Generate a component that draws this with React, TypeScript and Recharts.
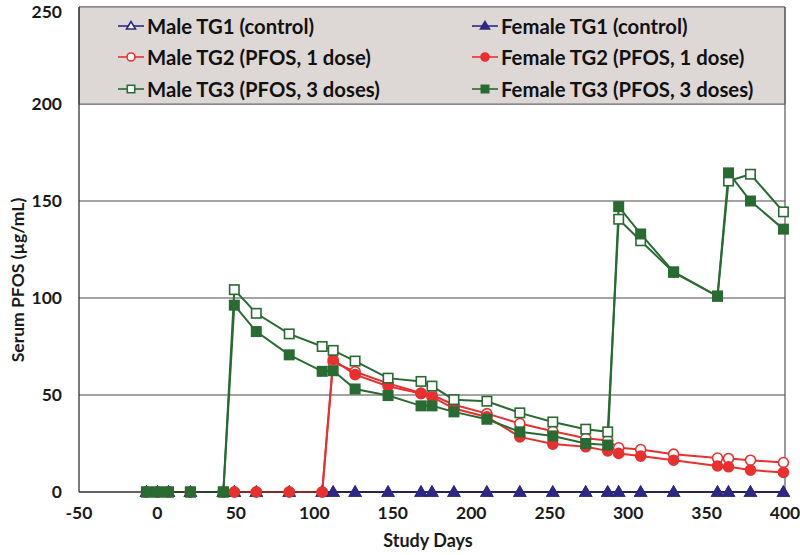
import React from 'react';
import {
  LineChart,
  Line,
  XAxis,
  YAxis,
  CartesianGrid,
  ReferenceArea,
  ReferenceLine,
} from 'recharts';

// sampling days (study days)
const days = [-7, 0, 7, 21, 42, 49, 63, 84, 105, 112, 126, 147, 168, 175, 189, 210, 231, 252, 273, 287, 294, 308, 329, 357, 364, 378, 399];

// serum PFOS (ug/mL) per group
const maleTG1 = [0, 0, 0, 0, 0, 0, 0, 0, 0, 0, 0, 0, 0, 0, 0, 0, 0, 0, 0, 0, 0, 0, 0, 0, 0, 0, 0];
const femaleTG1 = [0, 0, 0, 0, 0, 0, 0, 0, 0, 0, 0, 0, 0, 0, 0, 0, 0, 0, 0, 0, 0, 0, 0, 0, 0, 0, 0];
const maleTG2 = [0, 0, 0, 0, 0, 0, 0, 0, 0, 67, 62, 56, 51, 50, 45, 40.4, 35.3, 31.3, 27.7, 26.5, 22.8, 21.9, 19.5, 17.5, 17.3, 16.4, 15.2];
const femaleTG2 = [0, 0, 0, 0, 0, 0, 0, 0, 0, 68.2, 60.5, 54.5, 50.7, 49, 43, 38.7, 28.4, 24.7, 23.3, 21.2, 19.9, 18.5, 16.4, 13.4, 13, 11.3, 10.1];
const maleTG3 = [0, 0, 0, 0, 0, 104.3, 92.1, 81.5, 75, 73, 67.5, 58.7, 57, 54.6, 47.6, 46.8, 40.8, 36.1, 32.4, 31, 140.6, 129.5, 113.2, 100.9, 160.3, 163.8, 144.4];
const femaleTG3 = [0, 0, 0, 0, 0, 96.3, 82.7, 70.7, 62.2, 62.5, 53.1, 49.7, 44.4, 44.4, 41.3, 37.5, 31, 28.9, 25, 24.2, 147.1, 133, 113.5, 101, 164.5, 150, 135.5];

const xTicks = [-50, 0, 50, 100, 150, 200, 250, 300, 350, 400];
const yTicks = [0, 50, 100, 150, 200, 250];

const BLUE = '#2e2783';
const RED = '#e8302f';
const GREEN = '#2a6a33';
const FONT = 'Lato, "Open Sans", sans-serif';

const data = days.map((day, i) => ({
  day,
  m1: maleTG1[i],
  f1: femaleTG1[i],
  m2: maleTG2[i],
  f2: femaleTG2[i],
  m3: maleTG3[i],
  f3: femaleTG3[i],
}));

type Shape = 'triangle' | 'circle' | 'square';

const series: { key: string; label: string; shape: Shape; color: string; filled: boolean }[] = [
  { key: 'm1', label: 'Male TG1 (control)', shape: 'triangle', color: BLUE, filled: false },
  { key: 'f1', label: 'Female TG1 (control)', shape: 'triangle', color: BLUE, filled: true },
  { key: 'm2', label: 'Male TG2 (PFOS, 1 dose)', shape: 'circle', color: RED, filled: false },
  { key: 'f2', label: 'Female TG2 (PFOS, 1 dose)', shape: 'circle', color: RED, filled: true },
  { key: 'm3', label: 'Male TG3 (PFOS, 3 doses)', shape: 'square', color: GREEN, filled: false },
  { key: 'f3', label: 'Female TG3 (PFOS, 3 doses)', shape: 'square', color: GREEN, filled: true },
];

function Marker({ cx, cy, shape, color, filled, s = 5 }: any) {
  if (cx == null || cy == null) return null;
  const fill = filled ? color : '#fff';
  const sw = 1.6;
  if (shape === 'triangle') {
    const pts = `${cx},${cy - s - 0.5} ${cx - s - 0.5},${cy + s - 1} ${cx + s + 0.5},${cy + s - 1}`;
    return <polygon points={pts} fill={fill} stroke={color} strokeWidth={sw} />;
  }
  if (shape === 'circle') {
    return <circle cx={cx} cy={cy} r={s} fill={fill} stroke={color} strokeWidth={sw} />;
  }
  return <rect x={cx - s + 0.3} y={cy - s + 0.3} width={s * 2 - 0.6} height={s * 2 - 0.6} fill={fill} stroke={color} strokeWidth={sw} />;
}

function LegendBox() {
  // male column left, female column right
  const rows = [
    [series[0], series[1]],
    [series[2], series[3]],
    [series[4], series[5]],
  ];
  return (
    <div
      style={{
        position: 'absolute',
        left: 118,
        top: 10,
        fontFamily: FONT,
        fontWeight: 700,
        fontSize: 20.3,
        color: '#111',
        pointerEvents: 'none',
      }}
    >
      {rows.map((row, r) => (
        <div key={r} style={{ display: 'flex', height: 31.5, alignItems: 'center' }}>
          {row.map((s) => (
            <div key={s.key} style={{ display: 'flex', alignItems: 'center', width: 354, whiteSpace: 'nowrap' }}>
              <svg width={28} height={14} style={{ marginRight: 1 }}>
                <line x1={0} y1={7} x2={26} y2={7} stroke={s.color} strokeWidth={1.6} />
                <Marker cx={13} cy={7} shape={s.shape} color={s.color} filled={s.filled} s={4} />
              </svg>
              <span>{s.label}</span>
            </div>
          ))}
        </div>
      ))}
    </div>
  );
}

const tickStyle = { fontFamily: FONT, fontWeight: 700, fontSize: 17.5, fill: '#1a1a1a' };

// y tick label; the topmost one is nudged down so it stays inside the picture
function YTick({ x, y, payload }: any) {
  const yy = Math.max(y, 12);
  return (
    <text x={x} y={yy} dy="0.355em" textAnchor="end" {...tickStyle}>
      {payload.value}
    </text>
  );
}

export default function App() {
  return (
    <div style={{ position: 'absolute', left: 0, top: 0, width: 800, height: 555, background: '#fff' }}>
      <LineChart width={800} height={555} data={data} margin={{ top: 7, right: 15, left: 0, bottom: 0 }}>
        <CartesianGrid vertical={false} stroke="#8a8584" strokeWidth={1.5} />
        <ReferenceArea x1={-50} x2={400} y1={200} y2={250} fill="#ddd8d6" fillOpacity={1} stroke="#6e6a69" strokeWidth={1} />
        <ReferenceLine x={400} stroke="#555" strokeWidth={1.2} />
        <XAxis
          type="number"
          dataKey="day"
          domain={[-50, 400]}
          ticks={xTicks}
          interval={0}
          tickLine={false}
          axisLine={{ stroke: '#222', strokeWidth: 1.2 }}
          tick={tickStyle}
          tickMargin={9}
          height={63}
          label={{
            content: () => (
              <text x={428} y={547} textAnchor="middle" fontFamily={FONT} fontWeight={700} fontSize={18} fill="#1a1a1a">
                Study Days
              </text>
            ),
          }}
        />
        <YAxis
          type="number"
          domain={[0, 250]}
          ticks={yTicks}
          interval={0}
          tickLine={false}
          axisLine={{ stroke: '#222', strokeWidth: 1.2 }}
          tick={<YTick />}
          tickMargin={11}
          width={79}
          label={{
            content: () => (
              <text
                x={18}
                y={280}
                transform="rotate(-90 18 280)"
                textAnchor="middle"
                dy="0.35em"
                fontFamily={FONT}
                fontWeight={700}
                fontSize={17.5}
                fill="#1a1a1a"
              >
                Serum PFOS (µg/mL)
              </text>
            ),
          }}
        />
        {series.map((s) => (
          <Line
            key={s.key}
            dataKey={s.key}
            name={s.label}
            type="linear"
            stroke={s.color}
            strokeWidth={2}
            isAnimationActive={false}
            dot={(p: any) => (
              <Marker key={`${s.key}-${p.index}`} cx={p.cx} cy={p.cy} shape={s.shape} color={s.color} filled={s.filled} />
            )}
            activeDot={false}
          />
        ))}
      </LineChart>
      <LegendBox />
    </div>
  );
}
